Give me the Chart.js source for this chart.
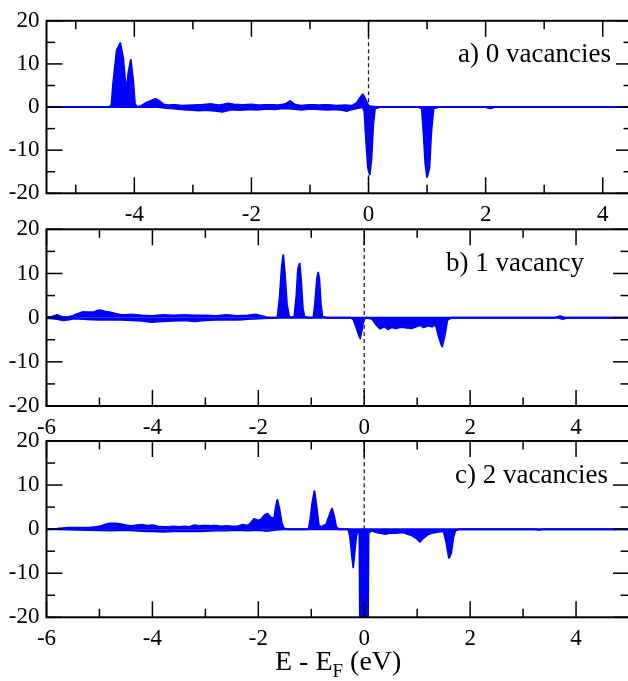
<!DOCTYPE html>
<html><head><meta charset="utf-8">
<script src="https://cdn.jsdelivr.net/npm/chart.js@4.4.1/dist/chart.umd.min.js"></script>
<style>
html,body{margin:0;padding:0;background:#fff;overflow:hidden;}
#wrap{position:relative;width:628px;height:681px;overflow:hidden;background:#fff;}
canvas{position:absolute;left:0;top:0;}
</style></head><body>
<div id="wrap">
<canvas id="ca" width="640" height="681" style="width:640px;height:681px"></canvas>
<canvas id="cb" width="640" height="681" style="width:640px;height:681px"></canvas>
<canvas id="cc" width="640" height="681" style="width:640px;height:681px"></canvas>
</div>
<script>
// ---------- tick labels ----------
const xTicksA = [-4, -2, 0, 2, 4];
const xMinorA = [-5, -3, -1, 1, 3];
const xTicksBC = [-6, -4, -2, 0, 2, 4];
const xMinorBC = [-5, -3, -1, 1, 3, 5];
const yTicks = [-20, -10, 0, 10, 20];
const yMinor = [-15, -5, 5, 15];

// ---------- panel labels ----------
const labelA = 'a) 0 vacancies';
const labelB = 'b) 1 vacancy';
const labelC = 'c) 2 vacancies';

// ---------- Fermi-level marker (y extent of the visible dashed line) ----------
const fermiA = [-20, 20];
const fermiB = [-20, 20];
const fermiC = [0, 20];

// ---------- panel a : 0 vacancies ----------
const eUpA = [-5.5,-4.42,-4.39,-4.36,-4.30,-4.24,-4.19,-4.14,-4.10,-4.06,-4.02,-3.99,-3.95,-3.88,-3.80,-3.72,-3.64,-3.57,-3.50,-3.42,-3.30,-3.20,-3.00,-2.85,-2.70,-2.55,-2.40,-2.30,-2.15,-2.00,-1.85,-1.70,-1.55,-1.42,-1.34,-1.26,-1.15,-1.00,-0.85,-0.70,-0.55,-0.40,-0.28,-0.20,-0.14,-0.10,-0.06,0.00,0.05,0.15,0.5,1.0,1.5,2.0,2.5,3.0,3.5,4.0,4.5];
const dosUpA = [0,0,0.5,5.6,13.2,14.8,11.3,3.4,8.0,10.9,6.0,0.7,0,0.3,1.0,1.4,1.9,1.4,0.6,0.4,0.5,0.3,0.4,0.5,0.7,0.4,0.8,0.6,0.5,0.6,0.4,0.5,0.4,0.7,1.4,0.6,0.3,0.5,0.4,0.5,0.3,0.4,0.3,1.0,2.2,3.0,2.0,0.3,0.1,0,0,0,0,0,0,0,0,0,0];
const eDnA = [-5.5,-3.9,-3.6,-3.45,-3.3,-3.1,-2.9,-2.75,-2.6,-2.5,-2.35,-2.2,-2.05,-1.9,-1.75,-1.6,-1.45,-1.3,-1.15,-1.0,-0.85,-0.7,-0.55,-0.45,-0.37,-0.3,-0.2,-0.1,-0.07,-0.04,-0.01,0.02,0.05,0.08,0.11,0.2,0.85,0.91,0.94,0.97,1.0,1.04,1.07,1.11,1.2,2.0,2.08,2.15,4.5];
const dosDnA = [0,0,0,-0.2,-0.4,-0.6,-0.8,-0.7,-0.9,-1.1,-0.6,-0.7,-0.5,-0.6,-0.4,-0.5,-0.3,-0.4,-0.6,-0.4,-0.5,-0.6,-0.5,-0.7,-0.9,-0.6,-0.3,0,-1.0,-8.0,-14.0,-15.6,-12.0,-4.0,-0.3,0,0,-0.3,-6.0,-13.0,-16.2,-14.0,-6.0,-0.3,0,0,-0.3,0,0];

// ---------- panel b : 1 vacancy ----------
const eUpB = [-6,-5.9,-5.8,-5.72,-5.6,-5.5,-5.4,-5.3,-5.2,-5.1,-5.0,-4.9,-4.8,-4.7,-4.6,-4.5,-4.4,-4.3,-4.2,-4.0,-3.8,-3.6,-3.4,-3.2,-3.0,-2.8,-2.6,-2.4,-2.2,-2.05,-1.95,-1.85,-1.75,-1.64,-1.6,-1.56,-1.53,-1.50,-1.46,-1.42,-1.38,-1.32,-1.28,-1.25,-1.22,-1.19,-1.16,-1.13,-1.05,-0.96,-0.93,-0.89,-0.87,-0.85,-0.82,-0.79,-0.7,0,3.6,3.7,3.8,5];
const dosUpB = [0.1,0.2,0.6,0.2,0.1,0.4,0.9,1.3,1.2,1.3,1.7,1.4,1.2,0.9,0.6,0.6,0.7,0.6,0.5,0.4,0.6,0.5,0.6,0.5,0.5,0.4,0.6,0.4,0.5,0.7,0.4,0.1,0,0,4,11,14.1,10,3,0.3,0,0.2,5,11,12.2,8,2,0.2,0,0,3,9,10.2,9,3,0.2,0,0,0,0.3,0,0];
const eDnB = [-6,-5.8,-5.7,-5.6,-5.5,-5.3,-5.0,-4.8,-4.6,-4.4,-4.2,-4.0,-3.8,-3.6,-3.4,-3.2,-3.0,-2.8,-2.6,-2.4,-2.2,-2.0,-1.8,-1.6,-0.25,-0.2,-0.14,-0.08,-0.04,-0.01,0.05,0.15,0.22,0.3,0.38,0.45,0.52,0.6,0.7,0.8,0.9,0.98,1.05,1.12,1.2,1.28,1.35,1.4,1.47,1.52,1.57,1.65,3.65,3.75,3.85,5];
const dosDnB = [-0.1,-0.3,-0.6,-0.5,-0.2,-0.3,-0.5,-0.4,-0.5,-0.6,-0.7,-1.0,-0.8,-0.7,-0.6,-0.8,-0.6,-0.5,-0.4,-0.5,-0.3,-0.2,-0.1,0,0,-0.5,-2.5,-4.7,-2.5,-0.3,0,-0.3,-1.5,-2.5,-2.0,-2.6,-2.2,-2.4,-2.1,-2.3,-2.4,-2.0,-1.7,-2.2,-1.8,-2.0,-1.6,-4.0,-6.6,-4.0,-0.5,0,0,-0.3,0,0];

// ---------- panel c : 2 vacancies ----------
const eUpC = [-6,-5.8,-5.6,-5.4,-5.2,-5.0,-4.9,-4.8,-4.7,-4.6,-4.5,-4.4,-4.3,-4.2,-4.1,-4.0,-3.9,-3.8,-3.7,-3.6,-3.5,-3.4,-3.3,-3.2,-3.1,-3.0,-2.9,-2.8,-2.7,-2.6,-2.5,-2.4,-2.3,-2.2,-2.15,-2.08,-2.0,-1.95,-1.88,-1.83,-1.76,-1.7,-1.67,-1.64,-1.6,-1.56,-1.52,-1.45,-1.05,-1.02,-0.98,-0.94,-0.9,-0.86,-0.82,-0.77,-0.72,-0.66,-0.61,-0.57,-0.53,-0.48,5];
const dosUpC = [0,0.1,0.3,0.3,0.3,0.6,1.0,1.3,1.3,1.1,0.9,0.7,0.9,1.0,0.8,0.9,0.6,0.5,0.5,0.6,0.5,0.6,0.5,0.9,0.7,0.8,0.7,0.8,0.6,0.7,0.6,0.6,1.0,0.8,1.3,2.3,2.0,2.2,3.2,3.5,2.6,2.5,5.0,6.6,4.5,1.5,0.2,0,0,2,6,8.6,5,1.0,0.5,0.8,1.0,3,4.7,3,0.5,0,0];
const eDnC = [-6,-5.6,-5.2,-4.8,-4.5,-4.2,-4.0,-3.8,-3.6,-3.4,-3.2,-3.0,-2.8,-2.6,-2.4,-2.2,-2.0,-1.85,-1.7,-1.5,-0.3,-0.27,-0.24,-0.21,-0.18,-0.15,-0.12,-0.09,-0.08,0.07,0.08,0.13,0.2,0.3,0.4,0.5,0.6,0.7,0.8,0.9,1.0,1.05,1.1,1.2,1.3,1.4,1.5,1.55,1.6,1.64,1.68,1.72,1.8,3.2,3.3,3.4,5];
const dosDnC = [0,-0.1,-0.2,-0.3,-0.2,-0.4,-0.5,-0.6,-0.5,-0.4,-0.5,-0.4,-0.3,-0.3,-0.2,-0.3,-0.2,-0.4,-0.2,0,0,-1.5,-5,-8.7,-5,-1.5,-0.2,-1.0,-20.5,-20.5,-1.0,-0.3,-0.6,-0.9,-1.1,-0.8,-0.9,-0.7,-1.0,-1.4,-2.2,-2.9,-2.2,-1.2,-0.8,-0.6,-0.5,-3,-6.5,-5.5,-2,-0.3,0,0,-0.2,0,0];

const BLUE = '#0000ff';
const SERIF = '"Liberation Serif", "Times New Roman", Times, serif';

const pts = (xs, ys) => xs.map((x, i) => ({ x: x, y: ys[i] }));

const framePlugin = {
  id: 'frameTicks',
  afterDatasetsDraw(chart, args, opts) {
    const { ctx, chartArea: { left, right, top, bottom }, scales: { x, y } } = chart;
    ctx.save();
    ctx.strokeStyle = '#000';
    ctx.lineWidth = 1.5;
    const seg = (x1, y1, x2, y2) => { ctx.beginPath(); ctx.moveTo(x1, y1); ctx.lineTo(x2, y2); ctx.stroke(); };
    const MAJ = 16, MIN = 8.5;
    opts.xMajor.forEach(v => { const p = x.getPixelForValue(v); seg(p, bottom, p, bottom - MAJ); seg(p, top, p, top + MAJ); });
    opts.xMinor.forEach(v => { const p = x.getPixelForValue(v); seg(p, bottom, p, bottom - MIN); seg(p, top, p, top + MIN); });
    opts.yMajor.forEach(v => { const p = y.getPixelForValue(v); seg(left, p, left + MAJ, p); seg(right, p, right - MAJ, p); });
    opts.yMinor.forEach(v => { const p = y.getPixelForValue(v); seg(left, p, left + MIN, p); seg(right, p, right - MIN, p); });
    ctx.lineWidth = 2;
    ctx.strokeRect(left, top, right - left, bottom - top);
    // panel label
    ctx.fillStyle = '#000';
    ctx.font = '27px ' + SERIF;
    ctx.textAlign = 'left';
    ctx.textBaseline = 'alphabetic';
    ctx.fillText(opts.label, opts.labelX, top + opts.labelDy);
    // axis title (bottom panel only)
    if (opts.axisTitle) {
      let xx = opts.axisTitle.x;
      const by = opts.axisTitle.y;
      ctx.font = '28px ' + SERIF;
      ctx.fillText('E - E', xx, by);
      xx += ctx.measureText('E - E').width;
      ctx.font = '19px ' + SERIF;
      ctx.fillText('F', xx, by + 7);
      xx += ctx.measureText('F').width;
      ctx.font = '28px ' + SERIF;
      ctx.fillText(' (eV)', xx, by);
    }
    ctx.restore();
  }
};

function makePanel(id, eUp, up, eDn, dn, xMin, xMax, xTicks, xMinor, area, label, labelX, axisTitle, fermi) {
  const W = 640, H = 681, XH = 30, YW = 46.5;
  const dash = { data: [{ x: 0, y: fermi[0] }, { x: 0, y: fermi[1] }], borderColor: '#222', borderWidth: 1.3, borderDash: [4, 3], pointRadius: 0, fill: false, order: 0 };
  const dos = (xs, ys) => ({ data: pts(xs, ys), borderColor: BLUE, backgroundColor: BLUE, borderWidth: 2, borderJoinStyle: 'round', pointRadius: 0, fill: 'origin', tension: 0.0001, order: 1 });
  new Chart(document.getElementById(id), {
    type: 'line',
    data: { datasets: [dash, dos(eUp, up), dos(eDn, dn)] },
    options: {
      responsive: false,
      devicePixelRatio: 1,
      animation: false,
      events: [],
      layout: { padding: { left: 0, top: area.top, right: W - area.right, bottom: H - area.bottom - XH } },
      plugins: {
        legend: { display: false },
        tooltip: { enabled: false },
        frameTicks: { xMajor: xTicks, xMinor: xMinor, yMajor: yTicks, yMinor: yMinor, label: label, labelX: labelX, labelDy: 41.5, axisTitle: axisTitle }
      },
      scales: {
        x: {
          type: 'linear', min: xMin, max: xMax,
          grid: { display: false, drawTicks: false },
          border: { display: false },
          afterBuildTicks: s => { s.ticks = xTicks.map(v => ({ value: v })); },
          afterFit: s => { s.height = XH; },
          ticks: { autoSkip: false, maxRotation: 0, padding: 8, color: '#000', font: { family: SERIF, size: 23 } }
        },
        y: {
          type: 'linear', min: -20, max: 20,
          grid: { display: false, drawTicks: false },
          border: { display: false },
          afterBuildTicks: s => { s.ticks = yTicks.map(v => ({ value: v })); },
          afterFit: s => { s.width = YW; },
          ticks: { autoSkip: false, padding: 7, color: '#000', font: { family: SERIF, size: 23 } }
        }
      }
    },
    plugins: [framePlugin]
  });
}

function drawAll() {
  makePanel('ca', eUpA, dosUpA, eDnA, dosDnA, -5.5, 4.5, xTicksA, xMinorA, { top: 16, bottom: 193.3, right: 632 }, labelA, 458, null, fermiA);
  makePanel('cb', eUpB, dosUpB, eDnB, dosDnB, -6, 5, xTicksBC, xMinorBC, { top: 229.3, bottom: 406, right: 629 }, labelB, 446, null, fermiB);
  makePanel('cc', eUpC, dosUpC, eDnC, dosDnC, -6, 5, xTicksBC, xMinorBC, { top: 441, bottom: 617.3, right: 629 }, labelC, 455, { x: 275, y: 669.5 }, fermiC);
}
if (document.fonts && document.fonts.load) {
  document.fonts.load('27px "Liberation Serif"').then(drawAll, drawAll);
} else {
  drawAll();
}
</script>
</body></html>
